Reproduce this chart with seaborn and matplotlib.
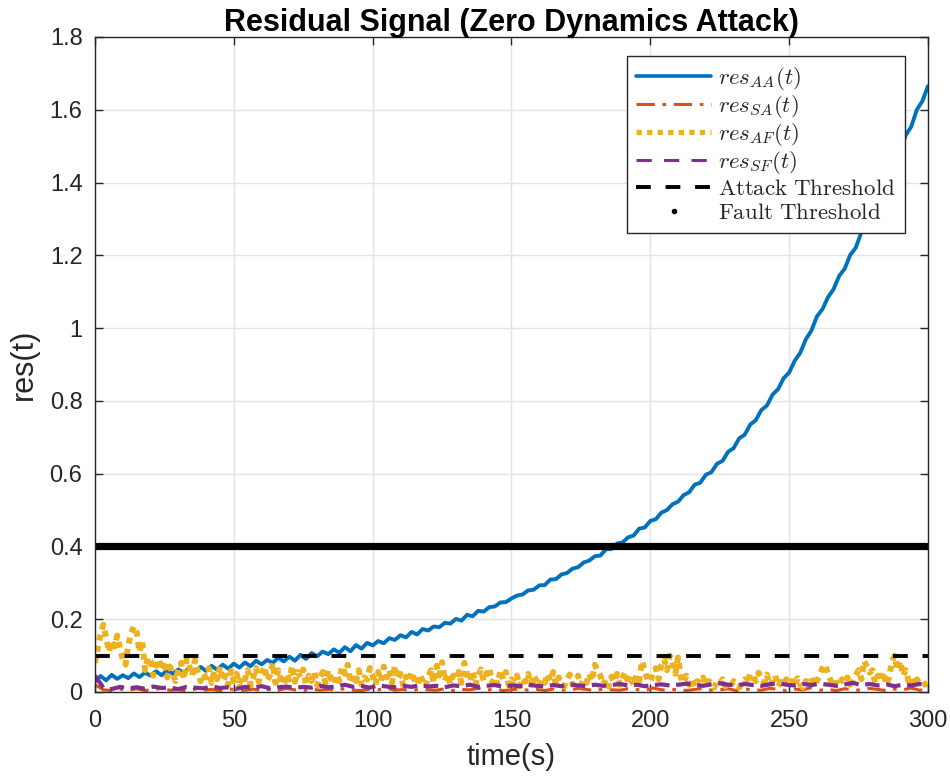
import numpy as np
import pandas as pd
import matplotlib
matplotlib.use("Agg")
import matplotlib.pyplot as plt
from matplotlib.lines import Line2D
import seaborn as sns

# ---- residual data ---------------------------------------------------------
# res_AA(t), sampled every 2 s from 0 to 300 s
res_aa = [
    0.028, 0.044, 0.032, 0.047, 0.036,
    0.046, 0.038, 0.051, 0.041, 0.053,
    0.045, 0.057, 0.046, 0.060, 0.050,
    0.062, 0.052, 0.066, 0.055, 0.069,
    0.058, 0.072, 0.061, 0.075, 0.064,
    0.078, 0.067, 0.081, 0.071, 0.086,
    0.076, 0.088, 0.080, 0.094, 0.084,
    0.097, 0.086, 0.102, 0.091, 0.107,
    0.098, 0.111, 0.104, 0.117, 0.108,
    0.123, 0.112, 0.129, 0.119, 0.135,
    0.128, 0.140, 0.134, 0.148, 0.143,
    0.156, 0.150, 0.165, 0.158, 0.173,
    0.169, 0.180, 0.178, 0.190, 0.188,
    0.201, 0.196, 0.212, 0.208, 0.223,
    0.221, 0.233, 0.235, 0.246, 0.247,
    0.257, 0.265, 0.268, 0.279, 0.281,
    0.293, 0.294, 0.309, 0.310, 0.323,
    0.327, 0.339, 0.343, 0.356, 0.361,
    0.373, 0.375, 0.392, 0.393, 0.408,
    0.411, 0.425, 0.430, 0.449, 0.452,
    0.470, 0.475, 0.493, 0.500, 0.516,
    0.523, 0.541, 0.549, 0.570, 0.575,
    0.597, 0.604, 0.627, 0.635, 0.660,
    0.670, 0.697, 0.707, 0.735, 0.747,
    0.775, 0.787, 0.817, 0.832, 0.862,
    0.878, 0.910, 0.932, 0.969, 0.993,
    1.032, 1.052, 1.085, 1.107, 1.143,
    1.163, 1.201, 1.221, 1.263, 1.284,
    1.325, 1.349, 1.393, 1.415, 1.461,
    1.485, 1.530, 1.554, 1.600, 1.624,
    1.665,
]

# res_SA(t), sampled every 3 s
res_sa = [
    0.020, 0.006, 0.004, 0.008, 0.005, 0.009, 0.004, 0.007, 0.010, 0.005,
    0.006, 0.003, 0.008, 0.005, 0.007, 0.004, 0.009, 0.006, 0.005, 0.008,
    0.004, 0.007, 0.005, 0.010, 0.006, 0.004, 0.008, 0.005, 0.007, 0.006,
    0.009, 0.005, 0.004, 0.008, 0.006, 0.011, 0.005, 0.007, 0.004, 0.008,
    0.006, 0.005, 0.009, 0.004, 0.007, 0.006, 0.010, 0.005, 0.008, 0.004,
    0.006, 0.009, 0.005, 0.007, 0.004, 0.008, 0.006, 0.005, 0.010, 0.007,
    0.004, 0.008, 0.006, 0.005, 0.009, 0.007, 0.004, 0.011, 0.006, 0.005,
    0.008, 0.004, 0.007, 0.010, 0.005, 0.006, 0.009, 0.004, 0.008, 0.006,
    0.005, 0.010, 0.007, 0.004, 0.008, 0.006, 0.012, 0.005, 0.007, 0.004,
    0.009, 0.006, 0.005, 0.010, 0.007, 0.004, 0.008, 0.006, 0.011, 0.005,
    0.007,
]

# res_AF(t), sampled every 1 s
res_af = [
    0.080, 0.120, 0.160, 0.185, 0.150, 0.110, 0.140, 0.125, 0.155, 0.120,
    0.090, 0.075, 0.130, 0.160, 0.180, 0.165, 0.110, 0.140, 0.060, 0.095,
    0.085, 0.045, 0.075, 0.090, 0.060, 0.085, 0.040, 0.070, 0.050, 0.030,
    0.062, 0.080, 0.035, 0.090, 0.070, 0.045, 0.088, 0.055, 0.030, 0.050,
    0.040, 0.065, 0.025, 0.058, 0.035, 0.070, 0.030, 0.045, 0.020, 0.058,
    0.030, 0.050, 0.022, 0.045, 0.035, 0.060, 0.018, 0.040, 0.066, 0.028,
    0.050, 0.070, 0.032, 0.045, 0.080, 0.025, 0.060, 0.035, 0.020, 0.050,
    0.034, 0.072, 0.028, 0.055, 0.040, 0.062, 0.020, 0.045, 0.030, 0.056,
    0.018, 0.040, 0.055, 0.025, 0.060, 0.035, 0.022, 0.048, 0.030, 0.070,
    0.050, 0.075, 0.025, 0.045, 0.030, 0.060, 0.020, 0.040, 0.034, 0.066,
    0.045, 0.020, 0.055, 0.030, 0.070, 0.040, 0.060, 0.025, 0.072, 0.035,
    0.050, 0.018, 0.042, 0.028, 0.055, 0.035, 0.020, 0.048, 0.030, 0.015,
    0.040, 0.060, 0.025, 0.072, 0.045, 0.082, 0.030, 0.050, 0.022, 0.045,
    0.035, 0.055, 0.025, 0.080, 0.048, 0.030, 0.058, 0.020, 0.045, 0.062,
    0.030, 0.050, 0.066, 0.025, 0.040, 0.020, 0.060, 0.035, 0.055, 0.018,
    0.035, 0.025, 0.045, 0.015, 0.038, 0.028, 0.050, 0.020, 0.045, 0.030,
    0.015, 0.035, 0.025, 0.050, 0.030, 0.055, 0.020, 0.040, 0.025, 0.015,
    0.035, 0.048, 0.020, 0.030, 0.045, 0.018, 0.035, 0.025, 0.050, 0.030,
    0.075, 0.060, 0.045, 0.020, 0.035, 0.015, 0.042, 0.028, 0.050, 0.020,
    0.040, 0.055, 0.025, 0.035, 0.018, 0.045, 0.030, 0.085, 0.060, 0.035,
    0.028, 0.050, 0.066, 0.035, 0.075, 0.090, 0.060, 0.100, 0.082, 0.050,
    0.095, 0.040, 0.025, 0.045, 0.020, 0.035, 0.015, 0.030, 0.022, 0.040,
    0.018, 0.030, 0.025, 0.012, 0.028, 0.020, 0.035, 0.015, 0.025, 0.018,
    0.030, 0.022, 0.012, 0.028, 0.035, 0.020, 0.050, 0.045, 0.030, 0.053,
    0.040, 0.025, 0.048, 0.018, 0.030, 0.045, 0.015, 0.028, 0.020, 0.035,
    0.022, 0.030, 0.015, 0.038, 0.020, 0.012, 0.030, 0.025, 0.040, 0.018,
    0.030, 0.045, 0.066, 0.075, 0.050, 0.030, 0.040, 0.020, 0.015, 0.035,
    0.025, 0.040, 0.020, 0.030, 0.045, 0.060, 0.035, 0.085, 0.070, 0.053,
    0.060, 0.025, 0.045, 0.030, 0.055, 0.020, 0.040, 0.085, 0.100, 0.060,
    0.085, 0.045, 0.060, 0.030, 0.040, 0.018, 0.035, 0.025, 0.030, 0.020,
    0.025,
]

# res_SF(t), sampled every 3 s
res_sf = [
    0.045, 0.012, 0.008, 0.014, 0.010, 0.013, 0.009, 0.015, 0.011, 0.012,
    0.008, 0.014, 0.012, 0.010, 0.015, 0.011, 0.013, 0.009, 0.014, 0.012,
    0.016, 0.010, 0.013, 0.015, 0.011, 0.014, 0.012, 0.017, 0.013, 0.015,
    0.020, 0.014, 0.016, 0.012, 0.018, 0.015, 0.013, 0.017, 0.014, 0.019,
    0.015, 0.017, 0.013, 0.018, 0.016, 0.020, 0.014, 0.017, 0.019, 0.015,
    0.018, 0.016, 0.020, 0.017, 0.015, 0.019, 0.016, 0.021, 0.018, 0.016,
    0.020, 0.017, 0.019, 0.022, 0.018, 0.020, 0.016, 0.019, 0.021, 0.018,
    0.020, 0.023, 0.019, 0.017, 0.021, 0.024, 0.020, 0.018, 0.022, 0.019,
    0.017, 0.021, 0.024, 0.020, 0.018, 0.022, 0.019, 0.023, 0.020, 0.017,
    0.021, 0.025, 0.019, 0.022, 0.018, 0.021, 0.016, 0.020, 0.018, 0.022,
    0.019,
]

ATTACK_THRESHOLD = 0.1
FAULT_THRESHOLD = 0.4
T_END = 300

x_ticks = [0, 50, 100, 150, 200, 250, 300]
y_ticks = [0, 0.2, 0.4, 0.6, 0.8, 1.0, 1.2, 1.4, 1.6, 1.8]
y_tick_labels = ["0", "0.2", "0.4", "0.6", "0.8", "1", "1.2", "1.4", "1.6", "1.8"]

labels = [r"$res_{AA}(t)$", r"$res_{SA}(t)$", r"$res_{AF}(t)$", r"$res_{SF}(t)$",
          r"$\mathrm{Attack\ Threshold}$", r"$\mathrm{Fault\ Threshold}$"]

C_BLUE = "#0072BD"
C_RED = "#D95319"
C_YELLOW = "#EDB120"
C_PURPLE = "#7E2F8E"
C_AXIS = "#262626"

LS_SA = (0, (6, 2.5, 1.2, 2.5))
LS_AF = (0, (1.0, 0.9))
LS_SF = (0, (3.5, 1.6))
LS_ATTACK = (0, (3.8, 3.8))


def frame(values):
    return pd.DataFrame({"t": np.linspace(0, T_END, len(values)), "r": values})


# ---- style ------------------------------------------------------------------
sns.set_theme(style="whitegrid")
plt.rcParams["font.family"] = ["Liberation Sans", "DejaVu Sans"]
plt.rcParams["mathtext.fontset"] = "cm"

fig = plt.figure(figsize=(9.5, 7.82), dpi=100)
ax = fig.add_axes([0.1, 0.1151, 0.8768, 0.8376])

line_kw = dict(x="t", y="r", ax=ax, sort=False, estimator=None, legend=False)
sns.lineplot(data=frame(res_aa), color=C_BLUE, lw=2.8, **line_kw)
sns.lineplot(data=frame(res_sa), color=C_RED, lw=2.2, **line_kw)
ax.lines[-1].set_linestyle(LS_SA)
sns.lineplot(data=frame(res_af), color=C_YELLOW, lw=4.3, **line_kw)
ax.lines[-1].set_linestyle(LS_AF)
sns.lineplot(data=frame(res_sf), color=C_PURPLE, lw=3.0, **line_kw)
ax.lines[-1].set_linestyle(LS_SF)

ax.axhline(ATTACK_THRESHOLD, color="black", lw=2.8, linestyle=LS_ATTACK)
ax.axhline(FAULT_THRESHOLD, color="black", lw=5.2, solid_capstyle="butt")

ax.set_xlim(0, T_END)
ax.set_ylim(0, 1.8)
ax.set_xticks(x_ticks)
ax.set_yticks(y_ticks)
ax.set_yticklabels(y_tick_labels)

ax.grid(True, color="#e3e3e3", lw=1.0)
for s in ax.spines.values():
    s.set_visible(True)
    s.set_color(C_AXIS)
    s.set_linewidth(1.0)
ax.tick_params(direction="in", length=6, width=1.0, colors=C_AXIS,
               labelsize=17, labelcolor=C_AXIS,
               top=True, right=True, bottom=True, left=True)
ax.tick_params(axis="x", pad=13)
ax.tick_params(axis="y", pad=9)

ax.set_xlabel("time(s)", fontsize=21, color=C_AXIS, labelpad=8)
ax.set_ylabel("res(t)", fontsize=22, color=C_AXIS, labelpad=8)
ax.set_title("Residual Signal (Zero Dynamics Attack)", fontsize=22,
             fontweight="bold", color="black", pad=4)

handles = [
    Line2D([], [], color=C_BLUE, lw=2.6),
    Line2D([], [], color=C_RED, lw=2.2, linestyle=LS_SA),
    Line2D([], [], color=C_YELLOW, lw=3.8, linestyle=(0, (1.0, 1.0))),
    Line2D([], [], color=C_PURPLE, lw=2.2, linestyle=(0, (5, 4))),
    Line2D([], [], color="black", lw=2.8, linestyle=LS_ATTACK),
    Line2D([], [], color="black", lw=0, marker=".", markersize=6),
]
leg = ax.legend(handles, labels, loc="upper right",
                bbox_to_anchor=(0.9724, 0.971), fontsize=16.5,
                handlelength=3.3, handletextpad=0.3, labelspacing=0.04,
                borderpad=0.4, frameon=True, fancybox=False, framealpha=1.0,
                edgecolor=C_AXIS, borderaxespad=0.0)
leg.get_frame().set_linewidth(1.0)

fig.savefig("out.png", dpi=100)
